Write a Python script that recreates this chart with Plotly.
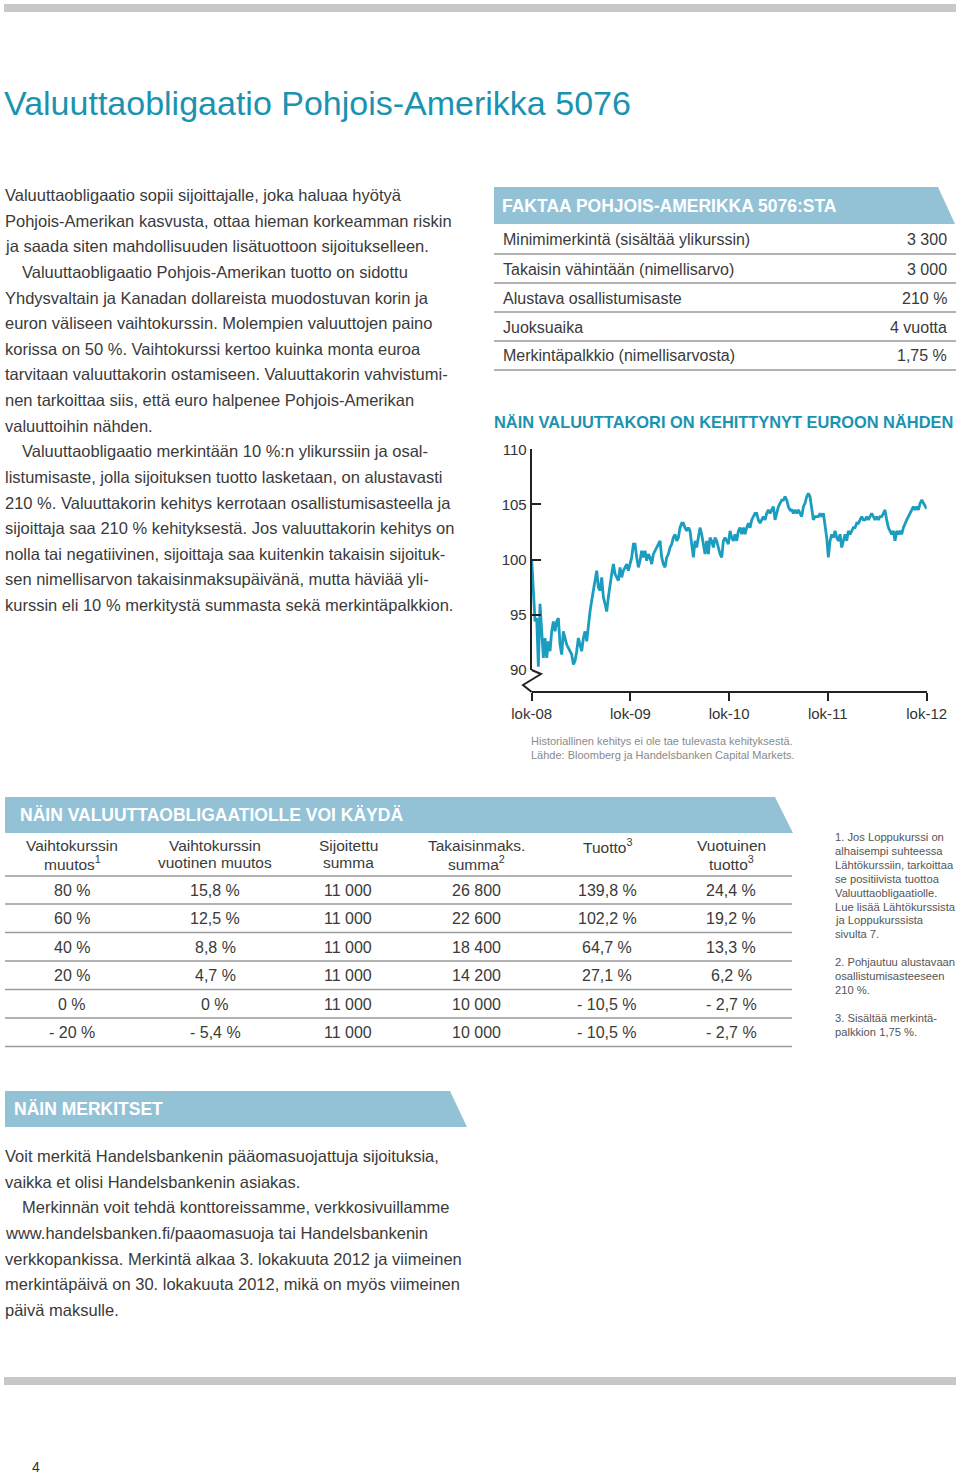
import plotly.graph_objects as go
import pandas as pd

W, H = 960, 1475


def px(x):
    return x / W


def py(y):
    return 1 - y / H


# ---------------- DATA ----------------
# Currency basket (USD/CAD vs EUR), index, roughly weekly readings Oct 2008 - Oct 2012
basket_index = [
    100.0, 97.5, 94.4, 94.7, 90.3, 96.0, 93.5, 91.1, 92.9, 91.1,
    92.6, 91.7, 93.5, 94.4, 93.5, 94.4, 94.7, 92.3, 91.4, 93.5,
    92.9, 92.3, 92.0, 91.7, 91.4, 90.5, 90.8, 91.7, 92.9, 92.3,
    91.7, 92.9, 93.5, 92.6, 94.1, 95.3, 96.3, 97.2, 97.8, 99.0,
    97.5, 97.2, 98.4, 96.6, 96.0, 95.3, 96.6, 97.8, 98.7, 99.6,
    98.7, 98.4, 98.1, 99.3, 98.4, 99.0, 99.3, 99.6, 99.0, 99.6,
    100.2, 101.4, 101.4, 100.2, 99.3, 99.9, 100.8, 100.2, 100.8, 99.9,
    100.5, 100.2, 99.6, 100.5, 100.8, 101.1, 101.4, 101.7, 100.2, 99.6,
    99.3, 100.2, 100.5, 101.1, 101.4, 102.0, 102.3, 101.7, 102.0, 102.9,
    103.3, 103.3, 102.9, 102.6, 102.9, 102.6, 101.4, 100.2, 101.7, 101.1,
    102.0, 102.9, 102.3, 101.4, 100.5, 101.7, 100.5, 102.0, 101.7, 101.1,
    102.0, 101.7, 101.1, 100.5, 100.2, 101.7, 102.0, 101.7, 101.4, 102.6,
    102.0, 101.7, 102.3, 101.7, 102.6, 102.9, 102.3, 102.9, 102.3, 102.9,
    103.3, 102.9, 103.6, 103.9, 104.2, 104.2, 103.6, 103.3, 103.6, 103.9,
    103.6, 104.2, 104.5, 104.2, 104.5, 104.8, 103.6, 104.2, 104.8, 105.1,
    105.4, 105.4, 105.7, 105.4, 104.8, 104.5, 104.5, 104.2, 104.5, 104.2,
    104.5, 104.2, 103.9, 104.8, 105.1, 105.7, 106.0, 105.7, 104.8, 103.6,
    103.9, 103.9, 103.9, 104.2, 103.9, 104.2, 103.3, 102.0, 100.2, 101.7,
    102.3, 102.0, 102.6, 102.0, 101.7, 102.3, 101.1, 101.7, 102.3, 101.7,
    102.6, 102.3, 102.6, 102.9, 102.9, 103.3, 103.3, 103.6, 103.9, 103.6,
    103.6, 103.9, 103.6, 103.9, 104.2, 103.9, 103.6, 103.9, 103.6, 103.9,
    103.9, 104.2, 104.5, 103.6, 102.9, 102.6, 102.3, 102.6, 101.7, 102.6,
    102.3, 102.6, 102.3, 102.9, 103.3, 103.6, 103.9, 104.2, 104.5, 104.8,
    104.5, 104.8, 104.5, 105.1, 105.4, 105.1, 104.8, 104.6,
]
series_start = "2008-10-01"
series_end = "2012-10-01"

x_tick_dates = ["2008-10-01", "2009-10-01", "2010-10-01", "2011-10-01", "2012-10-01"]
x_tick_labels = ["lok-08", "lok-09", "lok-10", "lok-11", "lok-12"]
y_tick_values = [90, 95, 100, 105, 110]
y_tick_labels = ["90", "95", "100", "105", "110"]

page_title = "Valuuttaobligaatio Pohjois-Amerikka 5076"

intro_lines = [
    ("Valuuttaobligaatio sopii sijoittajalle, joka haluaa hyötyä", 0),
    ("Pohjois-Amerikan kasvusta, ottaa hieman korkeamman riskin", 0),
    ("ja saada siten mahdollisuuden lisätuottoon sijoitukselleen.", 0),
    ("Valuuttaobligaatio Pohjois-Amerikan tuotto on sidottu", 1),
    ("Yhdysvaltain ja Kanadan dollareista muodostuvan korin ja", 0),
    ("euron väliseen vaihtokurssin. Molempien valuuttojen paino", 0),
    ("korissa on 50 %. Vaihtokurssi kertoo kuinka monta euroa", 0),
    ("tarvitaan valuuttakorin ostamiseen. Valuuttakorin vahvistumi-", 0),
    ("nen tarkoittaa siis, että euro halpenee Pohjois-Amerikan", 0),
    ("valuuttoihin nähden.", 0),
    ("Valuuttaobligaatio merkintään 10 %:n ylikurssiin ja osal-", 1),
    ("listumisaste, jolla sijoituksen tuotto lasketaan, on alustavasti", 0),
    ("210 %. Valuuttakorin kehitys kerrotaan osallistumisasteella ja", 0),
    ("sijoittaja saa 210 % kehityksestä. Jos valuuttakorin kehitys on", 0),
    ("nolla tai negatiivinen, sijoittaja saa kuitenkin takaisin sijoituk-", 0),
    ("sen nimellisarvon takaisinmaksupäivänä, mutta häviää yli-", 0),
    ("kurssin eli 10 % merkitystä summasta sekä merkintäpalkkion.", 0),
]

fact_title = "FAKTAA POHJOIS-AMERIKKA 5076:STA"
fact_labels = [
    "Minimimerkintä (sisältää ylikurssin)",
    "Takaisin vähintään (nimellisarvo)",
    "Alustava osallistumisaste",
    "Juoksuaika",
    "Merkintäpalkkio (nimellisarvosta)",
]
fact_values = ["3 300", "3 000", "210 %", "4 vuotta", "1,75 %"]

chart_title = "NÄIN VALUUTTAKORI ON KEHITTYNYT EUROON NÄHDEN"
chart_notes = [
    "Historiallinen kehitys ei ole tae tulevasta kehityksestä.",
    "Lähde: Bloomberg ja Handelsbanken Capital Markets.",
]

table_title = "NÄIN VALUUTTAOBLIGAATIOLLE VOI KÄYDÄ"
table_headers = [
    ["Vaihtokurssin", "muutos<sup>1</sup>"],
    ["Vaihtokurssin", "vuotinen muutos"],
    ["Sijoitettu", "summa"],
    ["Takaisinmaks.", "summa<sup>2</sup>"],
    ["Tuotto<sup>3</sup>", ""],
    ["Vuotuinen", "tuotto<sup>3</sup>"],
]
col_fx_change = ["80 %", "60 %", "40 %", "20 %", "0 %", "- 20 %"]
col_fx_annual = ["15,8 %", "12,5 %", "8,8 %", "4,7 %", "0 %", "- 5,4 %"]
col_invested = ["11 000", "11 000", "11 000", "11 000", "11 000", "11 000"]
col_repaid = ["26 800", "22 600", "18 400", "14 200", "10 000", "10 000"]
col_return = ["139,8 %", "102,2 %", "64,7 %", "27,1 %", "- 10,5 %", "- 10,5 %"]
col_annual_return = ["24,4 %", "19,2 %", "13,3 %", "6,2 %", "- 2,7 %", "- 2,7 %"]

footnote_lines = [
    ["1. Jos Loppukurssi on", "alhaisempi suhteessa", "Lähtökurssiin, tarkoittaa",
     "se positiivista tuottoa", "Valuuttaobligaatiolle.", "Lue lisää Lähtökurssista",
     "ja Loppukurssista", "sivulta 7."],
    ["2. Pohjautuu alustavaan", "osallistumisasteeseen", "210 %."],
    ["3. Sisältää merkintä-", "palkkion 1,75 %."],
]

sub_title = "NÄIN MERKITSET"
sub_lines = [
    ("Voit merkitä Handelsbankenin pääomasuojattuja sijoituksia,", 0),
    ("vaikka et olisi Handelsbankenin asiakas.", 0),
    ("Merkinnän voit tehdä konttoreissamme, verkkosivuillamme", 1),
    ("www.handelsbanken.fi/paaomasuoja tai Handelsbankenin", 0),
    ("verkkopankissa. Merkintä alkaa 3. lokakuuta 2012 ja viimeinen", 0),
    ("merkintäpäivä on 30. lokakuuta 2012, mikä on myös viimeinen", 0),
    ("päivä maksulle.", 0),
]
page_number = "4"

# ---------------- STYLE ----------------
FONT = "Liberation Sans, Arial, Helvetica, sans-serif"
TEXT = "#3a3a3a"
TEAL = "#1a93b1"
LINE = "#1b9dc0"
BANNER = "#93c2d7"
RULE = "#9a9a9a"
AXIS = "#222222"

dates = pd.date_range(series_start, series_end, periods=len(basket_index))

fig = go.Figure()
fig.add_trace(go.Scatter(
    x=dates, y=basket_index, mode="lines",
    line=dict(color=LINE, width=2.8),
    hoverinfo="skip", showlegend=False,
))

annotations = []
shapes = []


def txt(x, y, text, size, color=TEXT, xanchor="left", bold=False):
    if bold:
        text = "<b>" + text + "</b>"
    annotations.append(dict(
        x=px(x), y=py(y), xref="paper", yref="paper", text=text,
        showarrow=False, xanchor=xanchor, yanchor="middle",
        font=dict(family=FONT, size=size, color=color), borderpad=0,
    ))


def hline(x0, x1, y, color=RULE, width=1.4):
    shapes.append(dict(type="line", xref="paper", yref="paper",
                       x0=px(x0), x1=px(x1), y0=py(y), y1=py(y),
                       line=dict(color=color, width=width)))


def rect(x0, x1, y0, y1, color):
    shapes.append(dict(type="rect", xref="paper", yref="paper",
                       x0=px(x0), x1=px(x1), y0=py(y1), y1=py(y0),
                       fillcolor=color, line=dict(width=0)))


def banner(x0, x1top, x1bot, y0, y1):
    path = "M {a},{b} L {c},{b} L {d},{e} L {a},{e} Z".format(
        a=px(x0), b=py(y0), c=px(x1top), d=px(x1bot), e=py(y1))
    shapes.append(dict(type="path", xref="paper", yref="paper", path=path,
                       fillcolor=BANNER, line=dict(width=0)))


# top & bottom grey bars
rect(4, 956, 4, 12, "#c8c8c8")
rect(4, 956, 1377, 1385, "#c8c8c8")

# title
txt(3, 103, page_title, 34, TEAL)

# intro paragraph
for i, (line, indent) in enumerate(intro_lines):
    txt(4 + 17 * indent, 195 + i * 25.63, line, 16.5)

# fact box
banner(494, 938, 955, 187, 224)
txt(501, 206, fact_title, 17.5, "white", bold=True)
fact_y = [240, 269, 298, 327, 356]
fact_rules = [254, 283, 312, 341, 370]
for lab, val, y, r in zip(fact_labels, fact_values, fact_y, fact_rules):
    txt(502, y, lab, 16)
    txt(948, y, val, 16, xanchor="right")
    hline(494, 956, r)

# chart title & notes
txt(493, 422, chart_title, 16.4, TEAL, bold=True)
txt(530, 741, chart_notes[0], 11, "#8a8a8a")
txt(530, 755, chart_notes[1], 11, "#8a8a8a")

# y-axis break zig-zag
zig = "M {a},{b} L {c},{d} L {e},{f} L {a},{g}".format(
    a=px(531.7), b=py(670), c=px(541), d=py(674), e=px(523), f=py(685), g=py(692))
shapes.append(dict(type="path", xref="paper", yref="paper", path=zig,
                   line=dict(color=AXIS, width=2)))

# table
banner(5, 775, 793, 797, 833)
txt(19, 815, table_title, 17.5, "white", bold=True)
col_x = [72, 215, 348, 476, 607, 731]
for cx, (h1, h2) in zip(col_x, table_headers):
    txt(cx, 846, h1, 15.5, xanchor="center")
    if h2:
        txt(cx, 862.5, h2, 15.5, xanchor="center")
hline(5, 792, 876)
columns = [col_fx_change, col_fx_annual, col_invested, col_repaid, col_return, col_annual_return]
row_y = [890, 918.5, 947, 975.5, 1004, 1032.5]
for r, y in enumerate(row_y):
    for cx, col in zip(col_x, columns):
        txt(cx, y, col[r], 16, xanchor="center")
    hline(5, 792, y + 14)

# footnotes
fy = 837
for block in footnote_lines:
    for line in block:
        txt(834, fy, line, 11.2, "#555555")
        fy += 13.9
    fy += 14

# subscription block
banner(5, 450, 467, 1091, 1127)
txt(13, 1109, sub_title, 17.5, "white", bold=True)
for i, (line, indent) in enumerate(sub_lines):
    txt(4 + 17 * indent, 1156 + i * 25.67, line, 16.5)

txt(31, 1467, page_number, 14, "#333333")

fig.update_layout(
    width=W, height=H, autosize=False,
    margin=dict(l=0, r=0, t=0, b=0, pad=0, autoexpand=False),
    paper_bgcolor="white", plot_bgcolor="white",
    showlegend=False,
    font=dict(family=FONT, color=TEXT),
    annotations=annotations, shapes=shapes,
    xaxis=dict(
        type="date", domain=[px(531.7), px(926.7)],
        range=[series_start, series_end],
        anchor="free", position=py(692), automargin=False,
        showline=True, linecolor=AXIS, linewidth=2,
        ticks="outside", ticklen=8, tickwidth=2, tickcolor=AXIS,
        tickvals=x_tick_dates, ticktext=x_tick_labels,
        tickfont=dict(size=15, color="#333333", family=FONT),
        showgrid=False, zeroline=False, fixedrange=True,
    ),
    yaxis=dict(
        domain=[py(670), py(449.3)], range=[90, 110], automargin=False,
        showline=True, linecolor=AXIS, linewidth=2,
        ticks="inside", ticklen=9, tickwidth=2, tickcolor=AXIS,
        tickvals=y_tick_values, ticktext=y_tick_labels,
        tickfont=dict(size=15, color="#333333", family=FONT),
        showgrid=False, zeroline=False, fixedrange=True,
    ),
)

fig.write_html("out.html", config={"displayModeBar": False},
               post_script="document.body.style.margin='0';")
